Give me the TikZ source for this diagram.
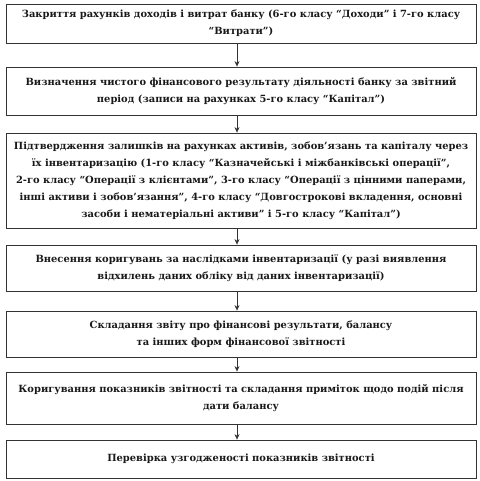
\documentclass[tikz,border=0pt]{standalone}
\usepackage{fontspec}
\setmainfont{DejaVu Serif}[BoldFont={DejaVu Serif Bold}]
\usetikzlibrary{arrows.meta}

\begin{document}
\begin{tikzpicture}[x=1pt,y=1pt,
  box/.style={draw=black!80, line width=0.8pt, minimum width=470pt, align=center,
    inner sep=2pt, font=\fontsize{9.9}{17}\selectfont\bfseries, text=black!90},
  arr/.style={draw=black!80, line width=0.7pt, -{Stealth[length=5.5pt,width=5pt]}}]
  \useasboundingbox (0,0) rectangle (479,-481);
  % етапи закриття року
  \node[box, minimum height=39pt] (zakr) at (241,-23.5)
    {Закриття рахунків доходів і витрат банку (6-го класу “Доходи” і 7-го класу\\“Витрати”)};
  \node[box, minimum height=48pt] (vyzn) at (241,-91)
    {Визначення чистого фінансового результату діяльності банку за звітний\\період (записи на рахунках 5-го класу “Капітал”)};
  \node[box, minimum height=95pt] (pidtv) at (241,-180.5)
    {Підтвердження залишків на рахунках активів, зобов’язань та капіталу через\\
     їх інвентаризацію (1-го класу “Казначейські і міжбанківські операції”,\\
     2-го класу “Операції з клієнтами”, 3-го класу “Операції з цінними паперами,\\
     інші активи і зобов’язання”, 4-го класу “Довгострокові вкладення, основні\\
     засоби і нематеріальні активи” і 5-го класу “Капітал”)};
  \node[box, minimum height=46pt] (vnes) at (241,-268)
    {Внесення коригувань за наслідками інвентаризації (у разі виявлення\\відхилень даних обліку від даних інвентаризації)};
  \node[box, minimum height=46pt] (skl) at (241,-334)
    {Складання звіту про фінансові результати, балансу\\та інших форм фінансової звітності};
  \node[box, minimum height=52pt] (kor) at (241,-398)
    {Коригування показників звітності та складання приміток щодо подій після\\дати балансу};
  \node[box, minimum height=38pt] (perev) at (241,-459)
    {Перевірка узгодженості показників звітності};
  % стрілки
  \draw[arr] ([xshift=-4pt]zakr.south) -- ([xshift=-4pt]vyzn.north);
  \draw[arr] ([xshift=-4pt]vyzn.south) -- ([xshift=-4pt]pidtv.north);
  \draw[arr] ([xshift=-4pt]pidtv.south) -- ([xshift=-4pt]vnes.north);
  \draw[arr] ([xshift=-4pt]vnes.south) -- ([xshift=-4pt]skl.north);
  \draw[arr] ([xshift=-4pt]skl.south) -- ([xshift=-4pt]kor.north);
  \draw[arr] ([xshift=-4pt]kor.south) -- ([xshift=-4pt]perev.north);
\end{tikzpicture}
\end{document}
